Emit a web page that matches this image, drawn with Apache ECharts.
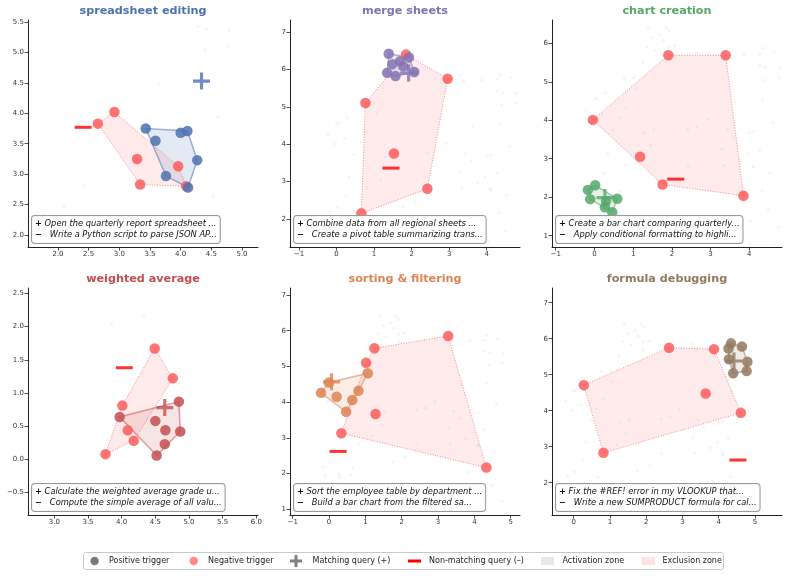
<!DOCTYPE html>
<html><head><meta charset="utf-8">
<script src="https://cdn.jsdelivr.net/npm/echarts@6/dist/echarts.min.js"></script>
<style>html,body{margin:0;padding:0;background:#fff}#c{width:788px;height:576px}</style>
</head><body><div id="c"></div>
<script>
// ---------------- DATA ----------------
const skillNames = ['spreadsheet editing', 'merge sheets', 'chart creation', 'weighted average', 'sorting & filtering', 'formula debugging'];
const skillColors = ['#4c72b0', '#8172b3', '#55a868', '#c44e52', '#dd8452', '#937860'];

const posSpreadsheet = [[3.43,3.75],[3.59,3.55],[4.00,3.68],[4.11,3.71],[4.27,3.23],[3.76,2.97],[4.12,2.78]];
const negSpreadsheet = [[2.65,3.83],[2.92,4.02],[3.29,3.25],[3.34,2.83],[3.96,3.13],[4.09,2.80]];
const posMerge = [[1.39,6.42],[1.49,6.14],[1.69,6.22],[1.93,6.32],[1.35,5.91],[1.57,5.82],[2.07,5.93],[1.78,6.08]];
const negMerge = [[1.85,6.40],[2.96,5.75],[0.77,5.10],[1.53,3.75],[2.42,2.81],[0.66,2.15]];
const posChart = [[-0.17,2.19],[0.02,2.31],[-0.11,1.95],[0.27,1.74],[0.46,1.61],[0.59,1.96],[0.30,1.90]];
const negChart = [[1.91,5.69],[3.39,5.69],[-0.04,4.01],[1.18,3.05],[1.76,2.33],[3.85,2.04]];
const posWeighted = [[3.97,0.64],[4.50,0.58],[4.85,0.87],[4.65,0.44],[4.87,0.42],[4.64,0.23],[4.52,0.06]];
const negWeighted = [[4.49,1.67],[4.76,1.22],[4.01,0.81],[4.09,0.44],[4.18,0.28],[3.76,0.08]];
const posSorting = [[-0.22,4.26],[0.21,4.15],[0.47,3.73],[0.64,4.06],[0.81,4.32],[1.07,4.81],[0.00,4.55]];
const negSorting = [[3.28,5.85],[1.25,5.51],[1.02,5.10],[1.28,3.67],[0.34,3.13],[4.33,2.17]];
const posFormula = [[4.34,5.87],[4.64,5.78],[4.27,5.73],[4.28,5.43],[4.79,5.36],[4.40,5.04],[4.77,5.10]];
const negFormula = [[2.63,5.75],[3.87,5.71],[0.28,4.71],[3.64,4.48],[4.61,3.94],[0.82,2.83]];

const matchQuery = [[4.34,4.53],[1.92,5.90],[0.27,1.99],[4.64,0.78],[0.07,4.57],[4.42,5.38]];
const nonMatchQuery = [[2.41,3.77],[1.45,3.36],[2.10,2.47],[4.04,1.38],[0.25,2.62],[4.53,2.63]];

const matchText = ['Open the quarterly report spreadsheet ...', 'Combine data from all regional sheets ...', 'Create a bar chart comparing quarterly...', 'Calculate the weighted average grade u...', 'Sort the employee table by department ...', 'Fix the #REF! error in my VLOOKUP that...'];
const nonMatchText = ['Write a Python script to parse JSON AP...', 'Create a pivot table summarizing trans...', 'Apply conditional formatting to highli...', 'Compute the simple average of all valu...', 'Build a bar chart from the filtered sa...', 'Write a new SUMPRODUCT formula for cal...'];

const xTicks1 = [2.0,2.5,3.0,3.5,4.0,4.5,5.0];
const yTicks1 = [2.0,2.5,3.0,3.5,4.0,4.5,5.0,5.5];
const xTicks2 = [-1,0,1,2,3,4];
const yTicks2 = [2,3,4,5,6,7];
const xTicks3 = [-1,0,1,2,3,4];
const yTicks3 = [1,2,3,4,5,6];
const xTicks4 = [3.0,3.5,4.0,4.5,5.0,5.5,6.0];
const yTicks4 = [-0.5,0.0,0.5,1.0,1.5,2.0,2.5];
const xTicks5 = [-1,0,1,2,3,4,5];
const yTicks5 = [1,2,3,4,5,6,7];
const xTicks6 = [0,1,2,3,4,5];
const yTicks6 = [2,3,4,5,6,7];

const legendLabels = ['Positive trigger', 'Negative trigger', 'Matching query (+)', 'Non-matching query (\u2013)', 'Activation zone', 'Exclusion zone'];

// ---------------- LAYOUT ----------------
const posList = [posSpreadsheet, posMerge, posChart, posWeighted, posSorting, posFormula];
const negList = [negSpreadsheet, negMerge, negChart, negWeighted, negSorting, negFormula];
const xTickList = [xTicks1, xTicks2, xTicks3, xTicks4, xTicks5, xTicks6];
const yTickList = [yTicks1, yTicks2, yTicks3, yTicks4, yTicks5, yTicks6];
const decimals = [1, 0, 0, 1, 0, 0];
const xRange = [[1.511,5.261],[-1.24,4.887],[-1.096,4.845],[2.609,6.025],[-1.074,5.256],[-0.598,5.745]];
const yRange = [[1.803,5.533],[1.251,7.32],[0.706,6.606],[-0.836,2.58],[0.84,7.196],[1.103,7.408]];
const gLeft = [28, 290, 552, 28, 290, 552];
const gTop = [20, 20, 20, 288, 288, 288];
const gW = 230, gH = 227;
const FONT = 'DejaVu Sans';

function hull(points) {
  const p = points.slice().sort((a, b) => a[0] - b[0] || a[1] - b[1]);
  const cross = (o, a, b) => (a[0]-o[0])*(b[1]-o[1]) - (a[1]-o[1])*(b[0]-o[0]);
  const lower = [], upper = [];
  for (const q of p) { while (lower.length >= 2 && cross(lower[lower.length-2], lower[lower.length-1], q) <= 0) lower.pop(); lower.push(q); }
  for (let i = p.length - 1; i >= 0; i--) { const q = p[i]; while (upper.length >= 2 && cross(upper[upper.length-2], upper[upper.length-1], q) <= 0) upper.pop(); upper.push(q); }
  upper.pop(); lower.pop();
  return lower.concat(upper);
}
function hexA(hex, a) {
  const n = parseInt(hex.slice(1), 16);
  return 'rgba(' + (n >> 16 & 255) + ',' + (n >> 8 & 255) + ',' + (n & 255) + ',' + a + ')';
}
const fmt = d => v => Number(v).toFixed(d).replace('-', '\u2212');
const plusPath = 'path://M6.5,0H9.5V6.5H16V9.5H9.5V16H6.5V9.5H0V6.5H6.5Z';

const grids = [], xAxes = [], yAxes = [], series = [], graphics = [];
const axisCommon = {
  axisLine: { show: true, lineStyle: { color: '#222', width: 1 } },
  axisTick: { show: true, length: 3.5, lineStyle: { color: '#222', width: 0.8 } },
  splitLine: { show: false },
  axisLabel: { color: '#333', fontSize: 7, fontFamily: FONT, margin: 4 }
};

for (let i = 0; i < 6; i++) {
  grids.push({ left: gLeft[i], top: gTop[i], width: gW, height: gH, containLabel: false });
  xAxes.push(Object.assign({}, axisCommon, {
    type: 'value', gridIndex: i, min: xRange[i][0], max: xRange[i][1],
    axisLine: Object.assign({}, axisCommon.axisLine, { onZero: false }),
    axisTick: Object.assign({}, axisCommon.axisTick, { customValues: xTickList[i] }),
    axisLabel: Object.assign({}, axisCommon.axisLabel, { customValues: xTickList[i], formatter: fmt(decimals[i]) })
  }));
  yAxes.push(Object.assign({}, axisCommon, {
    type: 'value', gridIndex: i, min: yRange[i][0], max: yRange[i][1],
    axisLine: Object.assign({}, axisCommon.axisLine, { onZero: false }),
    axisTick: Object.assign({}, axisCommon.axisTick, { customValues: yTickList[i] }),
    axisLabel: Object.assign({}, axisCommon.axisLabel, { customValues: yTickList[i], formatter: fmt(decimals[i]) })
  }));

  // background: all other skills' points
  const bg = [];
  for (let j = 0; j < 6; j++) if (j !== i) {
    posList[j].forEach(p => bg.push(p));
    negList[j].forEach(p => bg.push(p));
    bg.push(matchQuery[j]); bg.push(nonMatchQuery[j]);
  }
  series.push({ type: 'scatter', xAxisIndex: i, yAxisIndex: i, data: bg, symbolSize: 3.2, z: 1, silent: true,
    itemStyle: { color: 'rgba(140,140,140,0.11)' } });

  const nh = hull(negList[i]);
  series.push({ type: 'custom', xAxisIndex: i, yAxisIndex: i, data: [nh[0]], z: 2, silent: true,
    renderItem: (params, api) => ({ type: 'polygon', shape: { points: nh.map(h => api.coord(h)) },
      style: { fill: 'rgba(255,120,120,0.15)', stroke: 'rgba(255,60,60,0.6)', lineWidth: 1, lineDash: [1, 1.6] } }) });
  const ph = hull(posList[i]);
  series.push({ type: 'custom', xAxisIndex: i, yAxisIndex: i, data: [ph[0]], z: 3, silent: true,
    renderItem: (params, api) => ({ type: 'polygon', shape: { points: ph.map(h => api.coord(h)) },
      style: { fill: hexA(skillColors[i], 0.15), stroke: hexA(skillColors[i], 0.55), lineWidth: 1.5 } }) });

  series.push({ type: 'scatter', xAxisIndex: i, yAxisIndex: i, data: negList[i], symbolSize: 10.5, z: 4, silent: true,
    itemStyle: { color: '#ff5c5c', opacity: 0.85 } });
  series.push({ type: 'scatter', xAxisIndex: i, yAxisIndex: i, data: posList[i], symbolSize: 10.5, z: 5, silent: true,
    itemStyle: { color: skillColors[i], opacity: 0.85 } });
  series.push({ type: 'scatter', xAxisIndex: i, yAxisIndex: i, data: [matchQuery[i]], symbol: plusPath, symbolSize: 17, z: 6, silent: true,
    itemStyle: { color: skillColors[i] } });
  series.push({ type: 'scatter', xAxisIndex: i, yAxisIndex: i, data: [nonMatchQuery[i]], symbol: 'rect', symbolSize: [17, 3], z: 6, silent: true,
    itemStyle: { color: '#ff0000' } });

  // title
  graphics.push({ type: 'text', x: gLeft[i] + gW / 2, y: gTop[i] - 9, z: 10,
    style: { text: skillNames[i], font: 'bold 11.2px "' + FONT + '"', fill: skillColors[i],
      align: 'center', verticalAlign: 'middle', textAlign: 'center', textVerticalAlign: 'middle' } });
  // annotation box
  graphics.push({ type: 'text', x: gLeft[i] + 4, y: gTop[i] + gH - 4, z: 20,
    style: {
      text: '{s|+} ' + matchText[i] + '\n{s|\u2212}   ' + nonMatchText[i],
      font: 'italic 8.3px "' + FONT + '"', fill: '#111', lineHeight: 11.5,
      align: 'left', verticalAlign: 'bottom', textAlign: 'left', textVerticalAlign: 'bottom',
      backgroundColor: 'rgba(255,255,255,0.9)', borderColor: '#999', borderWidth: 1, borderRadius: 3,
      padding: [2, 3, 2, 3],
      rich: { s: { font: 'bold 8.3px "' + FONT + '"', fill: '#111', lineHeight: 11.5 } }
    } });
}

// bottom legend
const legY = 561;
graphics.push({ type: 'rect', shape: { x: 83.5, y: 552.5, width: 640, height: 17, r: 2 }, z: 20,
  style: { fill: '#fff', stroke: '#c8c8c8', lineWidth: 1 } });
graphics.push({ type: 'circle', shape: { cx: 94.6, cy: legY, r: 4.2 }, z: 21, style: { fill: '#7a7a7a' } });
graphics.push({ type: 'circle', shape: { cx: 193.8, cy: legY, r: 4.2 }, z: 21, style: { fill: '#ff8a8a' } });
graphics.push({ type: 'rect', shape: { x: 290, y: legY - 1.5, width: 12, height: 3 }, z: 21, style: { fill: '#808080' } });
graphics.push({ type: 'rect', shape: { x: 294.5, y: legY - 6, width: 3, height: 12 }, z: 21, style: { fill: '#808080' } });
graphics.push({ type: 'rect', shape: { x: 408, y: legY - 1.5, width: 13, height: 3 }, z: 21, style: { fill: '#ff0000' } });
graphics.push({ type: 'rect', shape: { x: 541, y: legY - 4, width: 13, height: 8 }, z: 21, style: { fill: '#e8e8e8' } });
graphics.push({ type: 'rect', shape: { x: 642, y: legY - 4, width: 13, height: 8 }, z: 21, style: { fill: '#ffe3e3' } });
const legX = [109, 208, 312.5, 429, 562.5, 662.5];
legendLabels.forEach((t, k) => graphics.push({ type: 'text', x: legX[k], y: legY, z: 21,
  style: { text: t, font: '8px "' + FONT + '"', fill: '#222', align: 'left', verticalAlign: 'middle', textAlign: 'left', textVerticalAlign: 'middle' } }));

const chart = echarts.init(document.getElementById('c'), null, { renderer: 'canvas' });
chart.setOption({
  animation: false,
  backgroundColor: '#fff',
  grid: grids, xAxis: xAxes, yAxis: yAxes, series: series, graphic: graphics
});
</script></body></html>
